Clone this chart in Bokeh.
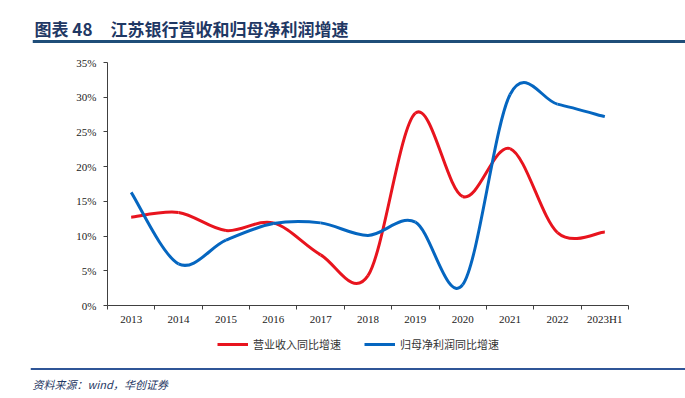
from bokeh.plotting import figure
from bokeh.layouts import column
from bokeh.models import (FixedTicker, Label, Span, Legend, LegendItem,
                          ColumnDataSource, Range1d)
from bokeh.embed import file_html
from bokeh.resources import INLINE

# ---- data ----
categories = ["2013", "2014", "2015", "2016", "2017", "2018", "2019", "2020", "2021", "2022", "2023H1"]
revenue_growth = [12.7, 13.4, 10.8, 11.9, 7.3, 4.3, 27.7, 15.7, 22.6, 10.5, 10.6]
profit_growth = [16.3, 6.0, 9.4, 11.8, 11.9, 10.1, 12.0, 3.0, 30.4, 29.0, 27.2]
y_ticks = [0, 5, 10, 15, 20, 25, 30, 35]
y_tick_labels = ["0%", "5%", "10%", "15%", "20%", "25%", "30%", "35%"]
series_names = ["营业收入同比增速", "归母净利润同比增速"]
title_prefix = "图表 48"
title_text = "江苏银行营收和归母净利润增速"
source_text = "资料来源：wind，华创证券"

RED = "#E8141E"
BLUE = "#0566C0"
NAVY = "#1F3864"
SERIF = "Liberation Serif"
CJK = "Noto Sans CJK SC"
W = 685


def smooth_segments(ys):
    """Excel-like smoothed line as cubic Bezier segments through the data points."""
    xs = list(range(len(ys)))
    n = len(ys)
    d = dict(x0=[], y0=[], x1=[], y1=[], cx0=[], cy0=[], cx1=[], cy1=[])
    for i in range(n - 1):
        a = i - 1 if i > 0 else i
        b = i + 2 if i + 2 < n else i + 1
        d["x0"].append(xs[i]); d["y0"].append(ys[i])
        d["x1"].append(xs[i + 1]); d["y1"].append(ys[i + 1])
        d["cx0"].append(xs[i] + (xs[i + 1] - xs[a]) / 6.0)
        d["cy0"].append(ys[i] + (ys[i + 1] - ys[a]) / 6.0)
        d["cx1"].append(xs[i + 1] - (xs[b] - xs[i]) / 6.0)
        d["cy1"].append(ys[i + 1] - (ys[b] - ys[i]) / 6.0)
    return ColumnDataSource(d)


def blank_fig(height, left, top, bottom):
    f = figure(width=W, height=height, x_range=Range1d(left, W), y_range=Range1d(bottom, top),
               x_axis_location=None, y_axis_location=None,
               min_border_left=left, min_border_right=0, min_border_top=0, min_border_bottom=0,
               output_backend="svg", toolbar_location=None)
    f.outline_line_color = None
    f.xgrid.visible = False
    f.ygrid.visible = False
    return f


# ---- header ----
head = blank_fig(48, 32, 0, 48)
head.add_layout(Label(x=34, y=28, text=title_prefix, text_font=CJK, text_font_size="17px",
                      text_font_style="bold", text_color=NAVY, text_baseline="middle"))
head.add_layout(Label(x=110, y=28, text=title_text, text_font=CJK, text_font_size="17px",
                      text_font_style="bold", text_color=NAVY, text_baseline="middle"))
head.add_layout(Span(location=41, dimension="width", line_color="#1F4E79", line_width=3))

# ---- main chart ----
p = figure(width=W, height=287, x_range=(-0.5, len(categories) - 0.5), y_range=(0, 35),
           min_border_left=107, min_border_right=57, min_border_top=14, min_border_bottom=30,
           output_backend="svg", toolbar_location=None)
p.outline_line_color = None
p.xgrid.visible = False
p.ygrid.visible = False

p.bezier(x0="x0", y0="y0", x1="x1", y1="y1", cx0="cx0", cy0="cy0", cx1="cx1", cy1="cy1",
         source=smooth_segments(revenue_growth), line_color=RED, line_width=3)
p.bezier(x0="x0", y0="y0", x1="x1", y1="y1", cx0="cx0", cy0="cy0", cx1="cx1", cy1="cy1",
         source=smooth_segments(profit_growth), line_color=BLUE, line_width=3)

ya = p.yaxis[0]
ya.ticker = FixedTicker(ticks=y_ticks, minor_ticks=[])
ya.major_label_overrides = {t: l for t, l in zip(y_ticks, y_tick_labels)}
ya.major_tick_in = 0
ya.major_tick_out = 4
ya.minor_tick_in = 0
ya.minor_tick_out = 0
ya.axis_line_color = "#404040"
ya.major_tick_line_color = "#404040"
ya.major_label_text_font = SERIF
ya.major_label_text_font_size = "11px"
ya.major_label_text_color = "#222222"
ya.major_label_standoff = 7

xa = p.xaxis[0]
xa.ticker = FixedTicker(ticks=list(range(len(categories))),
                        minor_ticks=[i - 0.5 for i in range(len(categories) + 1)])
xa.major_label_overrides = {i: c for i, c in enumerate(categories)}
xa.major_tick_in = 0
xa.major_tick_out = 0
xa.minor_tick_in = 0
xa.minor_tick_out = 4
xa.axis_line_color = "#404040"
xa.minor_tick_line_color = "#404040"
xa.major_label_text_font = SERIF
xa.major_label_text_font_size = "11px"
xa.major_label_text_color = "#222222"
xa.major_label_standoff = 3

# ---- footer: legend, rule, source ----
foot = blank_fig(63, 30, 335, 398)
lr = foot.line(x=[-1000, -999], y=[-1000, -1000], line_color=RED, line_width=3)
lb = foot.line(x=[-1000, -999], y=[-1000, -1000], line_color=BLUE, line_width=3)
legend = Legend(items=[LegendItem(label=series_names[0], renderers=[lr]),
                       LegendItem(label=series_names[1], renderers=[lb])],
                location=(187, 46), orientation="horizontal",
                border_line_color=None, background_fill_alpha=0,
                padding=0, margin=0, spacing=23, glyph_width=31, glyph_height=12,
                label_height=12, label_standoff=5,
                label_text_font=CJK, label_text_font_size="11px", label_text_color="#333333")
foot.add_layout(legend, "center")
foot.add_layout(Span(location=368.5, dimension="width", line_color="#2F5597", line_width=2))
foot.add_layout(Label(x=32, y=383, text=source_text, text_font=CJK, text_font_size="11px",
                      text_font_style="italic", text_color=NAVY, text_baseline="middle"))

layout = column(column(head), column(p), column(foot), spacing=0)
open("out.html", "w").write(file_html(layout, INLINE))
